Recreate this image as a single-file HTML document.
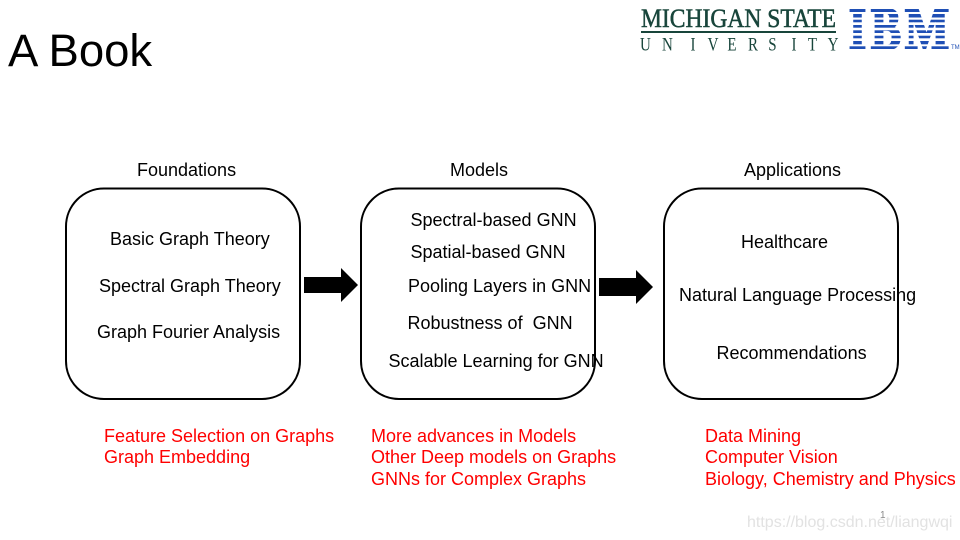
<!DOCTYPE html>
<html>
<head>
<meta charset="utf-8">
<style>
html,body{margin:0;padding:0;background:#fff;width:960px;height:540px;overflow:hidden}
svg{display:block}
text{font-family:"Liberation Sans",sans-serif;font-size:18px;fill:#000}
.r text{fill:#f00}
.ibm{font-family:"Liberation Serif",serif;font-weight:bold;font-size:60px;fill:#1f4fb5;stroke:#1f4fb5;stroke-width:2.500px}
</style>
</head>
<body>
<svg width="960" height="540" viewBox="0 0 960 540" xmlns="http://www.w3.org/2000/svg">
<rect width="960" height="540" fill="#fff"/>
<text x="8" y="66" style="font-size:45.500px">A Book</text>

<!-- MSU logo -->
<text x="641" y="27" textLength="195" lengthAdjust="spacingAndGlyphs" style="font-family:'Liberation Serif',serif;font-size:26px;fill:#18453b;stroke:#18453b;stroke-width:.5px">MICHIGAN STATE</text>
<rect x="641" y="31" width="195" height="2" fill="#18453b"/>
<text transform="translate(0,50.500) scale(1,1.25)" x="640 662 690.500 707.600 727.400 748 768.300 791.500 807.900 827.600" y="0" style="font-family:'Liberation Serif',serif;font-size:15px;fill:#18453b">UNIVERSITY</text>

<!-- IBM logo -->
<text class="ibm" x="849" y="49" textLength="17" lengthAdjust="spacingAndGlyphs">I</text>
<text class="ibm" x="871" y="49" textLength="30" lengthAdjust="spacingAndGlyphs">B</text>
<text class="ibm" x="905" y="49" textLength="44" lengthAdjust="spacingAndGlyphs">M</text>
<g fill="#fff">
<rect x="845" y="3" width="108" height="6"/>
<rect x="845" y="12" width="108" height="2"/>
<rect x="845" y="17.500" width="108" height="2.200"/>
<rect x="845" y="22.300" width="108" height="2.700"/>
<rect x="845" y="27.700" width="108" height="2.600"/>
<rect x="845" y="33" width="108" height="2.700"/>
<rect x="845" y="38.300" width="108" height="2.700"/>
<rect x="845" y="44.300" width="108" height="2"/>
<rect x="845" y="49" width="108" height="6"/>
</g>
<text x="951" y="49" style="font-size:6px;fill:#1f4fb5">TM</text>

<!-- headers -->
<text x="137" y="176">Foundations</text>
<text x="450" y="176">Models</text>
<text x="744" y="176">Applications</text>

<!-- boxes -->
<g fill="none" stroke="#000" stroke-width="2">
<rect x="66" y="188.500" width="234" height="210.500" rx="38" ry="38"/>
<rect x="361" y="188.500" width="234" height="210.500" rx="38" ry="38"/>
<rect x="664" y="188.500" width="234" height="210.500" rx="38" ry="38"/>
</g>

<!-- arrows -->
<polygon points="304,277 341,277 341,268 358,285 341,302 341,293 304,293" fill="#000"/>
<polygon points="599,278 636,278 636,270 653,287 636,304 636,296 599,296" fill="#000"/>

<!-- foundations -->
<text x="110" y="245">Basic Graph Theory</text>
<text x="99" y="292">Spectral Graph Theory</text>
<text x="97" y="338">Graph Fourier Analysis</text>

<!-- models -->
<text x="410.500" y="226">Spectral-based GNN</text>
<text x="410.500" y="258">Spatial-based GNN</text>
<text x="408" y="292">Pooling Layers in GNN</text>
<text x="407.500" y="329" xml:space="preserve">Robustness of  GNN</text>
<text x="388.500" y="367">Scalable Learning for GNN</text>

<!-- applications -->
<text x="741" y="248">Healthcare</text>
<text x="679" y="301">Natural Language Processing</text>
<text x="716.500" y="359">Recommendations</text>

<!-- red -->
<g class="r">
<text x="104" y="442">Feature Selection on Graphs</text>
<text x="104" y="463">Graph Embedding</text>
<text x="371" y="442">More advances in Models</text>
<text x="371" y="463">Other Deep models on Graphs</text>
<text x="371" y="485">GNNs for Complex Graphs</text>
<text x="705" y="442">Data Mining</text>
<text x="705" y="463">Computer Vision</text>
<text x="705" y="485">Biology, Chemistry and Physics</text>
</g>

<!-- page number and watermark -->
<text x="880" y="518" style="font-size:10px;fill:#8a8a8a">1</text>
<text x="747" y="527" style="font-size:16px;fill:#e2e2e2">https://blog.csdn.net/liangwqi</text>
</svg>
</body>
</html>
